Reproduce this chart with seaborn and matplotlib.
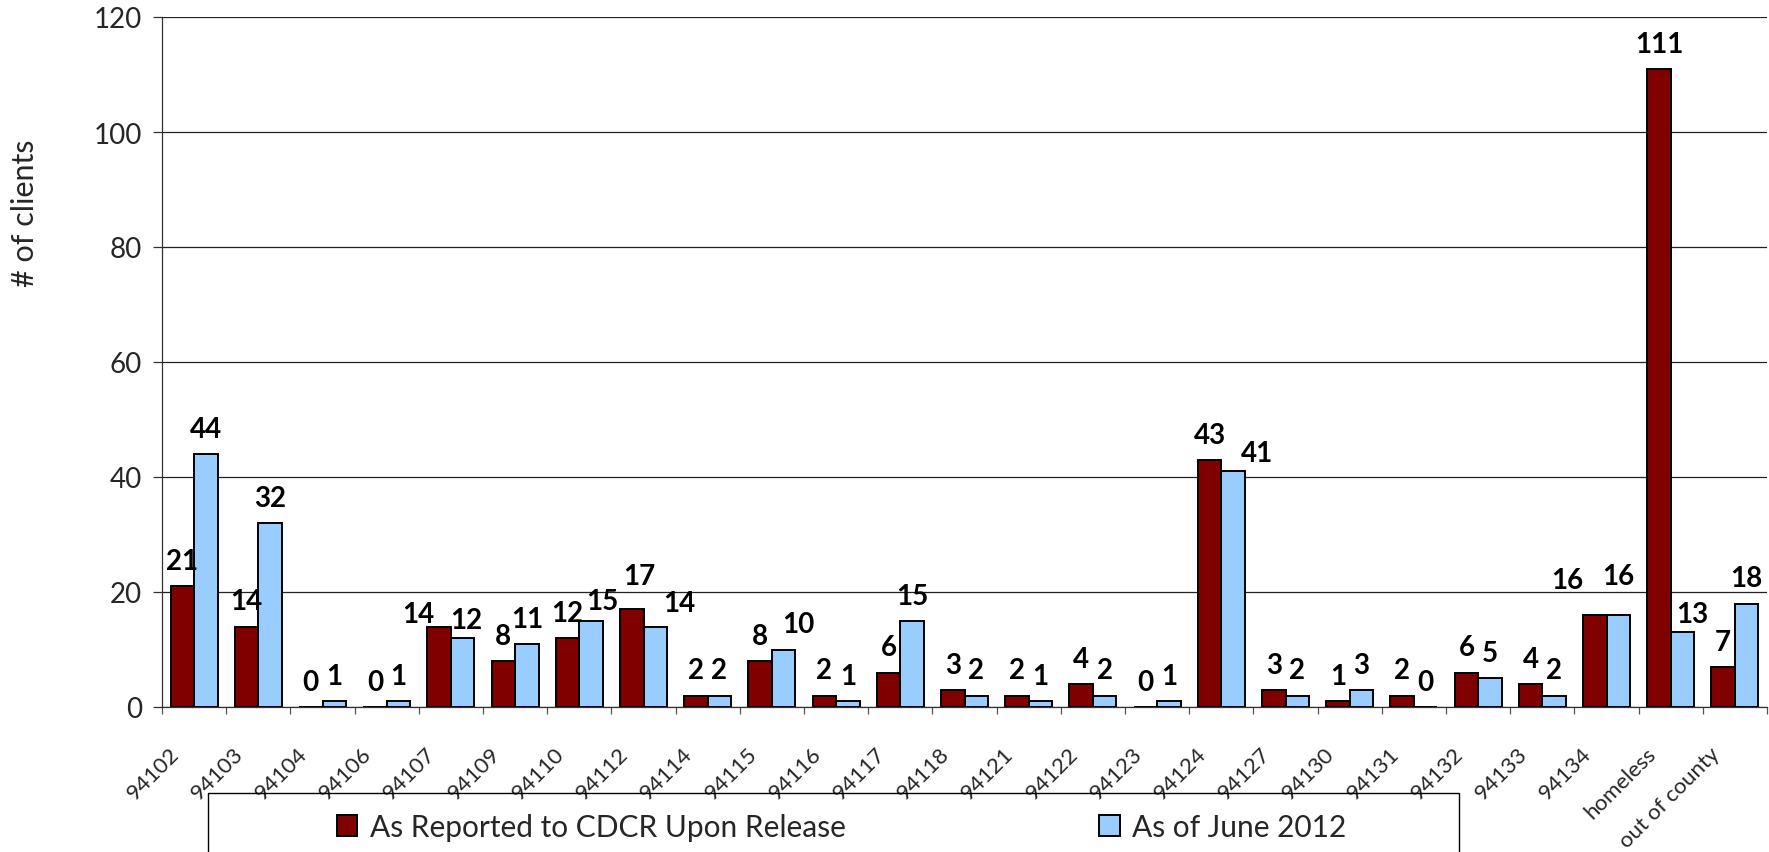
import numpy as np
import pandas as pd
import matplotlib
matplotlib.use("Agg")
import matplotlib.pyplot as plt
import matplotlib.transforms as mtransforms
import seaborn as sns

# zip codes / groups along the x axis
zip_codes = ["94102", "94103", "94104", "94106", "94107", "94109", "94110",
             "94112", "94114", "94115", "94116", "94117", "94118", "94121",
             "94122", "94123", "94124", "94127", "94130", "94131", "94132",
             "94133", "94134", "homeless", "out of county"]

# number of clients per zip code
reported_release = [21, 14, 0, 0, 14, 8, 12, 17, 2, 8, 2, 6, 3, 2, 4, 0, 43,
                    3, 1, 2, 6, 4, 16, 111, 7]
june_2012 = [44, 32, 1, 1, 12, 11, 15, 14, 2, 10, 1, 15, 2, 1, 2, 1, 41,
             2, 3, 0, 5, 2, 16, 13, 18]

series_names = ["As Reported to CDCR Upon Release", "As of June 2012"]
series_colors = ["#800000", "#99CCFF"]
y_ticks = [0, 20, 40, 60, 80, 100, 120]

# hand nudges (pixels) for a few value labels that were moved in the original
label_nudge = {
    (0, 4): (-21, -13), (0, 7): (8, 8), (0, 22): (-28, 10),
    (1, 4): (4, -7), (1, 6): (11, -5), (1, 7): (24, -2), (1, 9): (15, 0),
    (1, 16): (24, -7), (1, 22): (0, 14), (1, 23): (10, -7),
}

df = pd.DataFrame({
    "zip": zip_codes * 2,
    "clients": reported_release + june_2012,
    "series": [series_names[0]] * len(zip_codes) + [series_names[1]] * len(zip_codes),
})

sns.set_theme(style="white")
plt.rcParams["font.family"] = ["Lato", "DejaVu Sans"]

W, H = 1769, 853
fig = plt.figure(figsize=(W / 100, H / 100), dpi=100)
ax = fig.add_axes([162 / W, (H - 708) / H, (1767 - 162) / W, (708 - 18) / H])

sns.barplot(data=df, x="zip", y="clients", hue="series", order=zip_codes,
            hue_order=series_names, palette=series_colors, width=0.73, gap=0,
            edgecolor="black", linewidth=1.4, saturation=1, ax=ax, zorder=3)

ax.set_ylim(0, 120)
ax.set_xlim(-0.5, len(zip_codes) - 0.5)
ax.set_yticks(y_ticks)
ax.set_yticklabels([str(t) for t in y_ticks], fontsize=20)
ax.yaxis.grid(True, color="#222222", linewidth=0.9, zorder=0)
ax.set_axisbelow(True)

for side in ["top", "right"]:
    ax.spines[side].set_visible(False)
for side in ["left", "bottom"]:
    ax.spines[side].set_color("#333333")
    ax.spines[side].set_linewidth(0.9)

# ticks between categories, labels at category centres
ax.set_xticks(np.arange(-0.5, len(zip_codes), 1), minor=True)
ax.tick_params(axis="x", which="minor", bottom=True, length=5, width=0.9,
               color="#555555", direction="out")
ax.tick_params(axis="x", which="major", length=0, pad=34, labelsize=16)
ax.tick_params(axis="y", which="major", left=True, length=6.5, width=0.9,
               color="#333333", direction="out", pad=8)
shift = mtransforms.ScaledTranslation(-14 / 100, 0, fig.dpi_scale_trans)
for lab in ax.get_xticklabels():
    lab.set_rotation(45)
    lab.set_ha("right")
    lab.set_va("baseline")
    lab.set_rotation_mode("anchor")
    lab.set_transform(lab.get_transform() + shift)

ax.set_xlabel("")
ax.set_ylabel("# of clients", fontsize=22)
ax.yaxis.set_label_coords(25 / W, 1 - 213 / H, transform=fig.transFigure)
ax.yaxis.label.set_va("center")

# value labels above the bars
for j, cont in enumerate(ax.containers):
    for i, bar in enumerate(cont.patches):
        dx, dy = label_nudge.get((j, i), (0, 0))
        ax.annotate(f"{int(round(bar.get_height()))}",
                    (bar.get_x() + bar.get_width() / 2, bar.get_height()),
                    xytext=(dx, 17 + dy), textcoords="offset pixels",
                    ha="center", va="baseline", fontsize=20, fontweight="bold",
                    color="black", zorder=5)

# legend in a box that runs off the bottom of the picture
handles, labels = ax.get_legend_handles_labels()
ax.get_legend().remove()
fig.legend(handles, labels, loc="upper left",
           bbox_to_anchor=(337 / W, 1 - 814 / H), bbox_transform=fig.transFigure,
           ncol=2, frameon=False, borderpad=0, borderaxespad=0, fontsize=21.5,
           handlelength=0.68, handleheight=0.72, handletextpad=0.41,
           columnspacing=8.5)
box = plt.Rectangle((208 / W, -0.05), (1459 - 208) / W, 0.05 + (H - 794) / H,
                    transform=fig.transFigure, fill=False, edgecolor="black",
                    linewidth=1.0, clip_on=False)
fig.patches.append(box)

fig.savefig("out.png", dpi=100)
